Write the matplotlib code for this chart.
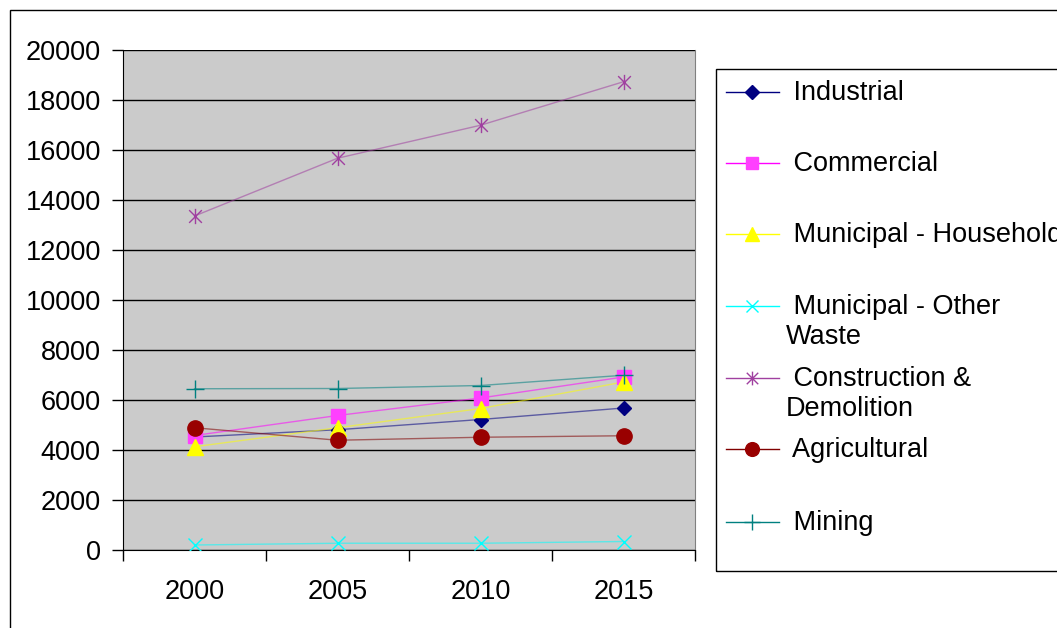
import matplotlib
matplotlib.use("Agg")
import matplotlib.pyplot as plt
from matplotlib.lines import Line2D
from matplotlib.patches import Rectangle
from matplotlib.path import Path

plt.rcParams['font.family'] = ['Liberation Sans', 'DejaVu Sans']

years = ["2000", "2005", "2010", "2015"]
industrial = [4520, 4810, 5220, 5680]
commercial = [4580, 5380, 6080, 6920]
household = [4130, 4890, 5660, 6720]
other_waste = [200, 270, 270, 340]
construction = [13360, 15670, 16990, 18730]
agricultural = [4890, 4390, 4510, 4570]
mining = [6450, 6460, 6580, 6990]

yticks = list(range(0, 20001, 2000))

# Asterisk marker: a diagonal cross with a vertical stroke through it
asterisk = Path(
    [(-1, -1), (1, 1), (-1, 1), (1, -1), (0, -1.2), (0, 1.2)],
    [Path.MOVETO, Path.LINETO, Path.MOVETO, Path.LINETO, Path.MOVETO, Path.LINETO],
)

series = [
    (" Industrial", industrial, "#000080", "#000080", "D", 7.5),
    (" Commercial", commercial, "#FF00FF", "#FF40FF", "s", 10),
    (" Municipal - Household", household, "#FFFF00", "#FFFF00", "^", 11),
    (" Municipal - Other\nWaste", other_waste, "#00FFFF", "#00FFFF", "x", 10),
    (" Construction &\nDemolition", construction, "#A040A0", "#A040A0", asterisk, 11),
    (" Agricultural", agricultural, "#800000", "#990000", "o", 11),
    (" Mining", mining, "#008080", "#008080", "+", 13),
]

W, H = 1057, 628
fig = plt.figure(figsize=(W / 100, H / 100), dpi=100)
ax = fig.add_axes([123 / W, 1 - 550 / H, (695 - 123) / W, (550 - 50) / H])
ax.set_facecolor("#CBCBCB")

for label, vals, lc, mc, mk, ms in series:
    ax.plot(years, vals, color=lc, lw=1.0, alpha=0.55, zorder=3)
    ax.plot(years, vals, ls="none", marker=mk, ms=ms, color=mc,
            markeredgecolor=mc, markeredgewidth=1.0, zorder=4)

ax.set_xlim(-0.5, 3.5)
ax.set_ylim(0, 20000)
ax.set_yticks(yticks)
ax.set_yticklabels([str(v) for v in yticks])
ax.yaxis.grid(True, color="black", lw=1.0)
ax.set_axisbelow(True)
ax.tick_params(axis="y", length=8, width=1, pad=8, labelsize=19.5)
ax.tick_params(axis="x", which="major", length=0, pad=21, labelsize=19.5)
ax.set_xticks([-0.5, 0.5, 1.5, 2.5, 3.5], minor=True)
ax.tick_params(axis="x", which="minor", length=8, width=1, direction="out")
ax.spines["top"].set_visible(False)
ax.spines["right"].set_color("#808080")
ax.spines["left"].set_color("black")
ax.spines["bottom"].set_color("black")

# Chart area border and legend box (extend past the canvas edge)
fig.add_artist(Rectangle((10 / W, -0.2), 2.0, 1 - 10 / H + 0.2,
                         transform=fig.transFigure, fill=False,
                         edgecolor="black", lw=1.0))
fig.add_artist(Rectangle((716 / W, 1 - 571 / H), 2.0, (571 - 69) / H,
                         transform=fig.transFigure, fill=False,
                         edgecolor="black", lw=1.0))

legend_y = [92, 163, 234, 306, 378, 449, 522]
for (label, vals, lc, mc, mk, ms), yy in zip(series, legend_y):
    fy = 1 - yy / H
    fig.add_artist(Line2D([726 / W, 779 / W], [fy, fy], color=lc, lw=1.0,
                          transform=fig.transFigure))
    fig.add_artist(Line2D([752 / W], [fy], ls="none", marker=mk, ms=ms * 0.9,
                          color=mc, markeredgecolor=mc, markeredgewidth=1.0,
                          transform=fig.transFigure))
    fig.text(786 / W, fy + 12 / H, label, fontsize=19.5, ha="left", va="top",
             linespacing=1.2)

fig.savefig("out.png", dpi=100)
